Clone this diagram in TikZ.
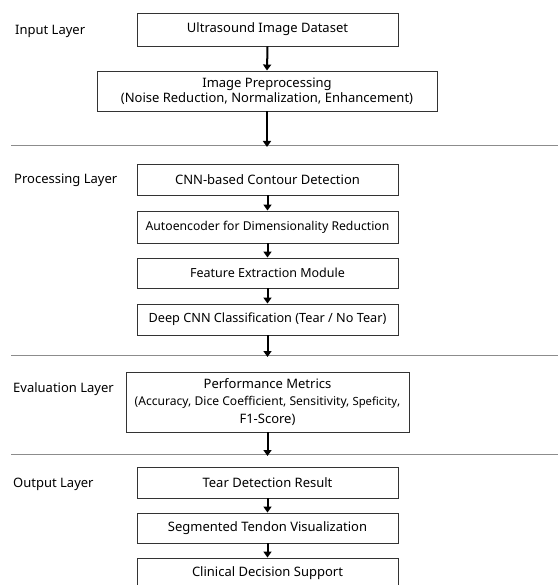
\documentclass[tikz,border=0pt]{standalone}
\usepackage{fontspec}
\setmainfont{Noto Sans}
\usetikzlibrary{arrows.meta}
\begin{document}
\begin{tikzpicture}[x=1pt,y=-1pt,
  box/.style={draw=black!80,line width=0.9pt,inner sep=0pt,align=center,font=\fontsize{13}{15}\selectfont},
  layerlbl/.style={anchor=west,inner sep=0pt,font=\fontsize{13}{15}\selectfont},
  flow/.style={-{Triangle[length=6pt,width=8pt]},line width=2pt,black},
  sep/.style={draw=black!45,line width=0.8pt}]
\useasboundingbox (0,0) rectangle (558,585);
\fill[white] (0,0) rectangle (558,585);
% layer labels
\node[layerlbl] (l1) at (15,31) {Input Layer};
\node[layerlbl] (l2) at (14,180) {Processing Layer};
\node[layerlbl] (l3) at (13,389) {Evaluation Layer};
\node[layerlbl] (l4) at (13,484) {Output Layer};
% separator lines
\coordinate (s1l) at (11,145); \coordinate (s1r) at (558,145);
\coordinate (s2l) at (11,355); \coordinate (s2r) at (558,355);
\coordinate (s3l) at (11,454); \coordinate (s3r) at (558,454);
\draw[sep] (s1l) -- (s1r);
\draw[sep] (s2l) -- (s2r);
\draw[sep] (s3l) -- (s3r);
% boxes
\node[box,minimum width=261pt,minimum height=33pt] (b1) at (267.5,29.5) {Ultrasound Image Dataset};
\node[box,minimum width=340pt,minimum height=40pt] (b2) at (267,91) {Image Preprocessing\\(Noise Reduction, Normalization, Enhancement)};
\node[box,minimum width=261pt,minimum height=31pt] (b3) at (267.5,179.5) {CNN-based Contour Detection};
\node[box,minimum width=261pt,minimum height=32pt,font=\fontsize{12.2}{15}\selectfont] (b4) at (267.5,227) {Autoencoder for Dimensionality Reduction};
\node[box,minimum width=261pt,minimum height=30pt,font=\fontsize{12.5}{15}\selectfont] (b5) at (267.5,273) {Feature Extraction Module};
\node[box,minimum width=261pt,minimum height=31pt,font=\fontsize{12.7}{15}\selectfont] (b6) at (267.5,319.5) {Deep CNN Classification (Tear / No Tear)};
\node[box,minimum width=283pt,minimum height=60pt,font=\fontsize{13}{17.5}\selectfont] (b7) at (267.5,402) {Performance Metrics\\{\fontsize{12.1}{17.5}\selectfont(Accuracy, Dice Coefficient, Sensitivity, {\fontsize{11.3}{17.5}\selectfont Speficity},}\\F1-Score)};
\node[box,minimum width=261pt,minimum height=31pt] (b8) at (267.5,482.5) {Tear Detection Result};
\node[box,minimum width=261pt,minimum height=30pt] (b9) at (267.5,528) {Segmented Tendon Visualization};
\node[box,minimum width=261pt,minimum height=31pt] (b10) at (267.5,573.5) {Clinical Decision Support};
% arrows
\draw[flow] (b1.south) -- (b2.north);
\draw[flow] (b2.south) -- ([yshift=-2pt]s1l -| b2.south);
\draw[flow] (b3.south) -- (b4.north);
\draw[flow] (b4.south) -- (b5.north);
\draw[flow] (b5.south) -- (b6.north);
\draw[flow] (b6.south) -- ([yshift=-2pt]s2l -| b6.south);
\draw[flow] (b7.south) -- ([yshift=-2pt]s3l -| b7.south);
\draw[flow] (b8.south) -- (b9.north);
\draw[flow] (b9.south) -- (b10.north);
\end{tikzpicture}
\end{document}
